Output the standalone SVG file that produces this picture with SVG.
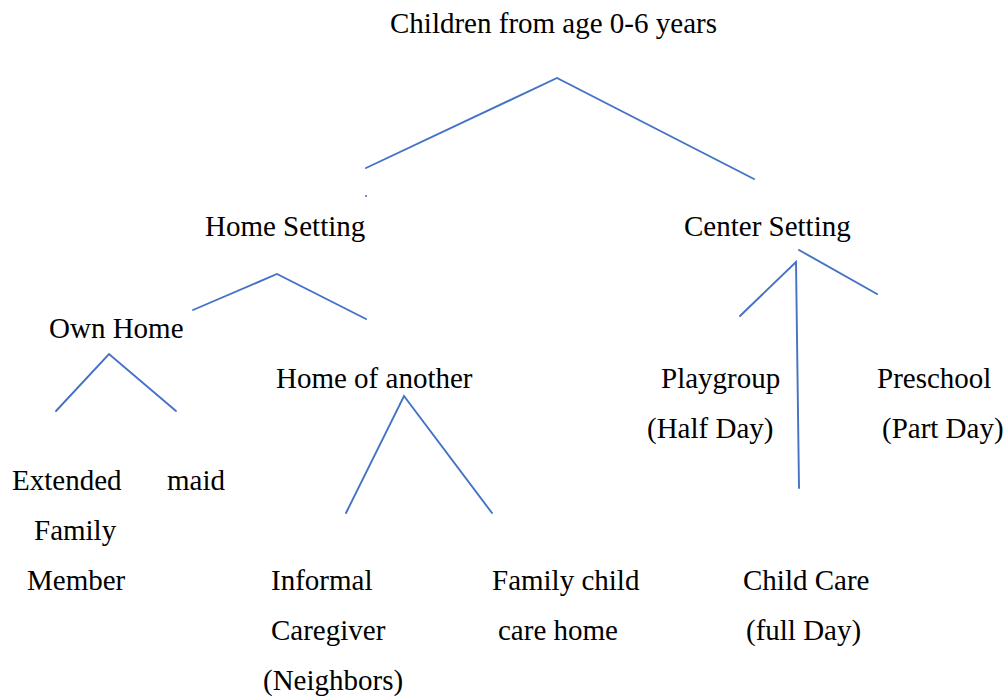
<svg xmlns="http://www.w3.org/2000/svg" width="1008" height="698" viewBox="0 0 1008 698">
<style>
text{font-family:"Liberation Serif","Times New Roman",serif;font-size:29px;fill:#000}
.c{stroke:#4472C4;stroke-width:1.9;fill:none;stroke-linecap:round;stroke-linejoin:miter}
</style>
<rect width="1008" height="698" fill="#fff"/>
<g id="connectors">
<polyline class="c" points="366,168 557,78 754,179"/>
<circle cx="366" cy="196" r="1" fill="#4472C4"/>
<polyline class="c" points="193,310 277,274 366,319"/>
<polyline class="c" points="56,411 109,354 176,411"/>
<polyline class="c" points="346,513 404,396 492,513"/>
<polyline class="c" points="740,316 796,262 799,488"/>
<line class="c" x1="799" y1="250" x2="877" y2="294"/>
</g>
<g id="root"><text x="390" y="33">Children from age 0-6 years</text></g>
<g id="home-setting"><text x="205" y="236">Home Setting</text></g>
<g id="center-setting"><text x="684" y="236">Center Setting</text></g>
<g id="own-home"><text x="49" y="338">Own Home</text></g>
<g id="home-of-another"><text x="276" y="388">Home of another</text></g>
<g id="playgroup"><text x="661" y="388">Playgroup</text><text x="647" y="438">(Half Day)</text></g>
<g id="preschool"><text x="877" y="388">Preschool</text><text x="882" y="438">(Part Day)</text></g>
<g id="extended-family"><text x="12" y="490">Extended</text><text x="34" y="540">Family</text><text x="27" y="590">Member</text></g>
<g id="maid"><text x="167" y="490">maid</text></g>
<g id="informal-caregiver"><text x="271" y="590">Informal</text><text x="271" y="640">Caregiver</text><text x="263" y="690">(Neighbors)</text></g>
<g id="family-child-care"><text x="492" y="590">Family child</text><text x="498" y="640">care home</text></g>
<g id="child-care"><text x="743" y="590">Child Care</text><text x="746" y="640">(full Day)</text></g>
</svg>
